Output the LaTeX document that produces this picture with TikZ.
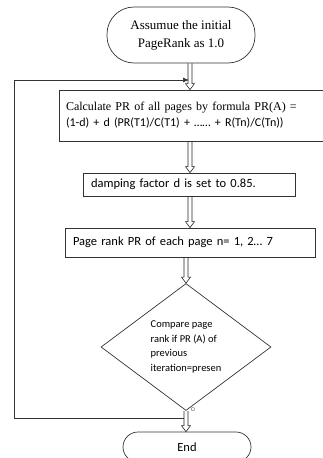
\documentclass[tikz,border=0pt]{standalone}
\usepackage{fontspec}
\setmainfont{Carlito}
\newfontfamily\serifface{Liberation Serif}
\usetikzlibrary{calc,shapes.geometric,arrows.meta}

\tikzset{
	box/.style={draw=black!80, line width=0.7pt, align=left, font=\fontsize{12.5}{15}\selectfont},
	hollow/.style={draw=black!85, line width=0.6pt, to path={let \p1=(\tikztostart), \p2=(\tikztotarget) in
		(\x1-2pt,\y1) -- (\x1-2pt,\y2+6pt) -- (\x1-4.5pt,\y2+6pt) -- (\x1,\y2) -- (\x1+4.5pt,\y2+6pt) -- (\x1+2pt,\y2+6pt) -- (\x1+2pt,\y1)}}
}

\begin{document}
\begin{tikzpicture}[x=1pt, y=-1pt]
		\useasboundingbox (0,0) rectangle (323,458);
		\node [box, align=center, rounded corners=27pt, minimum width=148pt, minimum height=56pt, font=\serifface\fontsize{13}{18}\selectfont] (start) at (181,35) {Assumue the initial\\PageRank as 1.0};
		\node [box, minimum width=271pt, minimum height=51pt, text width=257pt] (calc) at (194.5,115.5) {{\serifface\fontsize{12}{20}\selectfont Calculate PR of all pages by formula PR(A) =}\\[1pt]{\fontsize{12}{14}\selectfont (1-d) + d (PR(T1)/C(T1) + \dots\dots{} + R(Tn)/C(Tn))}};
		\node [box, minimum width=212pt, minimum height=23pt, text width=196pt] (damp) at (189,184.5) {damping factor d is set to 0.85.};
		\node [box, minimum width=250pt, minimum height=29pt, text width=234pt] (pr) at (190,242.5) {Page rank PR of each page n= 1, 2\dots{} 7};
		\node [box, diamond, inner sep=0pt, minimum width=170pt, minimum height=127pt, font=\fontsize{10.5}{14.5}\selectfont] (cmp) at (186,347) {Compare page\\rank if PR (A) of\\previous\\iteration=presen};
		\node [box, align=center, rounded corners=15pt, minimum width=128pt, minimum height=30pt] (stop) at (187,447) {End};
		\node [text=black!55, font=\fontsize{8}{8}\selectfont, inner sep=0pt] (no) at (193,410) {o};

		\draw [hollow] (start.south -| pr.center) to (calc.north -| pr.center);
		\draw [hollow] (calc.south -| pr.center) to (damp.north -| pr.center);
		\draw [hollow] (damp.south -| pr.center) to (pr.north);
		\draw [hollow] (pr.south -| cmp.north) to (cmp.north);
		\draw [hollow] (cmp.south) to (stop.north -| cmp.south);

		\coordinate (loopout) at (184,418);
		\coordinate (loopin) at (189,80);
		\draw [black!80, line width=0.7pt, -{Latex[length=6pt, width=5pt]}] (loopout) -- (14,418) |- (loopin);
\end{tikzpicture}
\end{document}
